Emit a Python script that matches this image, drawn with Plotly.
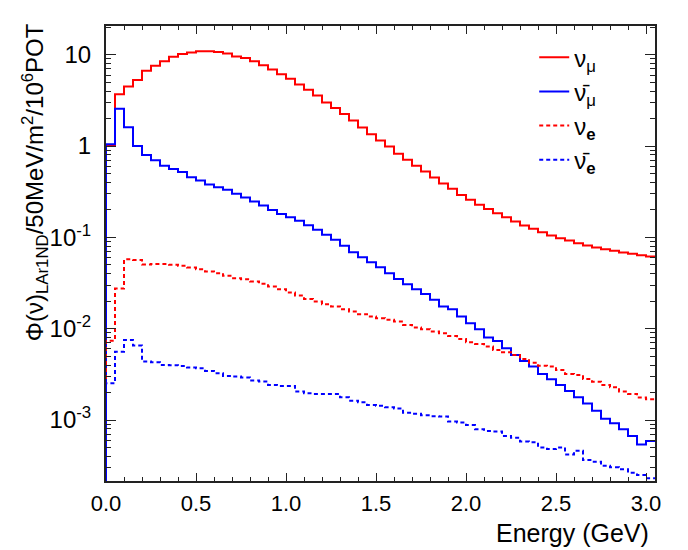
import numpy as np
import plotly.graph_objects as go

# LAr1-ND flux, 50 MeV bins from 0 to 3.05 GeV
BIN_WIDTH = 0.05
N_BINS = 61

numu = [1.0, 3.7, 4.5, 5.3, 6.7, 7.6, 8.5, 9.5, 10.2, 10.6,
        10.9, 10.9, 10.7, 10.3, 9.6, 9.2, 8.5, 7.7, 6.9, 6.1,
        5.45, 4.73, 4.13, 3.59, 3.0, 2.62, 2.24, 1.91, 1.6, 1.35,
        1.15, 0.99, 0.823, 0.707, 0.608, 0.527, 0.453, 0.389, 0.34, 0.292,
        0.258, 0.227, 0.205, 0.184, 0.166, 0.149, 0.135, 0.124, 0.114, 0.105,
        0.098, 0.0925, 0.0864, 0.0815, 0.0774, 0.0742, 0.0712, 0.0683, 0.066, 0.0638,
        0.0617]

numubar = [1.05, 2.56, 1.61, 1.0, 0.80, 0.70, 0.61, 0.56, 0.52, 0.457,
           0.42, 0.38, 0.355, 0.332, 0.30, 0.274, 0.247, 0.224, 0.20, 0.18,
           0.166, 0.152, 0.136, 0.121, 0.107, 0.094, 0.081, 0.0689, 0.0607, 0.0535,
           0.0471, 0.0405, 0.0351, 0.0307, 0.027, 0.024, 0.0207, 0.0175, 0.0163, 0.0136,
           0.0115, 0.00986, 0.008, 0.00734, 0.0061, 0.00516, 0.00443, 0.00385, 0.00319, 0.00279,
           0.00242, 0.00208, 0.00177, 0.00152, 0.00126, 0.00103, 0.00092, 0.00079, 0.00067, 0.00054,
           0.00059]

nue = [0.0074, 0.0275, 0.0577, 0.0567, 0.0505, 0.0512, 0.0512, 0.050, 0.0488, 0.0468,
       0.0448, 0.0423, 0.0405, 0.0379, 0.0357, 0.0348, 0.0329, 0.031, 0.029, 0.027,
       0.0249, 0.0231, 0.0212, 0.0198, 0.0185, 0.0175, 0.0163, 0.0154, 0.0144, 0.0136,
       0.013, 0.0125, 0.012, 0.011, 0.0103, 0.00986, 0.0093, 0.0089, 0.0083, 0.0077,
       0.0071, 0.0068, 0.00637, 0.00585, 0.00552, 0.00516, 0.00466, 0.00425, 0.00394, 0.00385,
       0.00353, 0.00319, 0.00311, 0.00281, 0.00263, 0.00242, 0.00228, 0.00205, 0.00193, 0.00176,
       0.00169]

nuebar = [0.00252, 0.0056, 0.00754, 0.00653, 0.00436, 0.00428, 0.004, 0.00398, 0.0039, 0.00375,
          0.00369, 0.00345, 0.00325, 0.00304, 0.00299, 0.00292, 0.0027, 0.00264, 0.00242, 0.00236,
          0.00236, 0.00205, 0.00196, 0.00193, 0.00193, 0.00193, 0.00177, 0.00163, 0.00156, 0.00146,
          0.00143, 0.00138, 0.00134, 0.0012, 0.00117, 0.00113, 0.0011, 0.00109, 0.00096, 0.00094,
          0.00088, 0.00079, 0.00076, 0.00075, 0.00067, 0.00064, 0.00058, 0.00057, 0.0005, 0.00048,
          0.0005, 0.00042, 0.00046, 0.000365, 0.00035, 0.000316, 0.000303, 0.000288, 0.000265, 0.00025,
          0.00023]

names = ["\u03bd<sub>\u03bc</sub>", "\u03bd\u0304<sub>\u03bc</sub>",
         "\u03bd<sub><b>e</b></sub>", "\u03bd\u0304<sub><b>e</b></sub>"]
y_tick_vals = [1e-3, 1e-2, 1e-1, 1, 10]
y_tick_text = ["10<sup>-3</sup>", "10<sup>-2</sup>", "10<sup>-1</sup>", "1", "10"]
x_tick_vals = [0.0, 0.5, 1.0, 1.5, 2.0, 2.5, 3.0]
x_tick_text = ["0.0", "0.5", "1.0", "1.5", "2.0", "2.5", "3.0"]

BASELINE = 1e-6  # histogram floor, below the visible range

edges = np.arange(N_BINS + 1) * BIN_WIDTH

series = [(numu, "#ff0000", "solid"), (numubar, "#0000ff", "solid"),
          (nue, "#ff0000", "4px,3px"), (nuebar, "#0000ff", "4px,3px")]

fig = go.Figure()
for (vals, color, dash), name in zip(series, names):
    xs = [edges[0]] + list(edges)
    ys = [BASELINE] + list(vals) + [vals[-1]]
    fig.add_trace(go.Scatter(x=xs, y=ys, mode="lines", name=name,
                             line=dict(color=color, width=2, dash=dash, shape="hv")))

x_font = dict(family="Liberation Sans", size=22, color="black")
y_font = dict(family="Liberation Sans", size=24, color="black")
minor_y = [m * 10.0 ** k for k in range(-4, 2) for m in range(2, 10)]

fig.update_layout(
    width=688, height=550,
    margin=dict(l=98, r=41, t=18, b=77),
    paper_bgcolor="white", plot_bgcolor="white",
    font=dict(family="Liberation Sans", color="black"),
    showlegend=True,
    legend=dict(x=0.78, y=0.98, xanchor="left", yanchor="top",
                bgcolor="rgba(0,0,0,0)", font=dict(size=24),
                tracegroupgap=2, itemwidth=30),
    xaxis=dict(range=[0, 3.05], showgrid=False, zeroline=False,
               showline=True, linecolor="#222", linewidth=2, mirror="allticks",
               ticks="inside", ticklen=8, tickcolor="#222",
               tickvals=x_tick_vals, ticktext=x_tick_text, tickfont=x_font,
               ticklabelstandoff=2,
               minor=dict(dtick=0.1, ticks="inside", ticklen=4, tickcolor="#222")),
    yaxis=dict(type="log", range=[-3.668, 1.315], showgrid=False, zeroline=False,
               showline=True, linecolor="#222", linewidth=2, mirror="allticks",
               ticks="inside", ticklen=10, tickcolor="#222",
               tickvals=y_tick_vals, ticktext=y_tick_text, tickfont=y_font,
               ticklabelstandoff=8,
               minor=dict(tickmode="array", tickvals=minor_y, ticks="inside",
                          ticklen=5, tickcolor="#222")),
    annotations=[
        dict(text="Energy (GeV)", xref="paper", yref="paper", x=0.993, y=-0.115,
             xanchor="right", yanchor="middle", showarrow=False,
             font=dict(family="Liberation Sans", size=25)),
        dict(text="\u03a6(\u03bd)<sub>LAr1ND</sub>/50MeV/m<sup>2</sup>/10<sup>6</sup>POT",
             xref="paper", yref="paper", x=-0.128, y=1.01, textangle=-90,
             xanchor="center", yanchor="top", showarrow=False,
             font=dict(family="Liberation Sans", size=24)),
    ],
)

fig.write_html("out.html")
